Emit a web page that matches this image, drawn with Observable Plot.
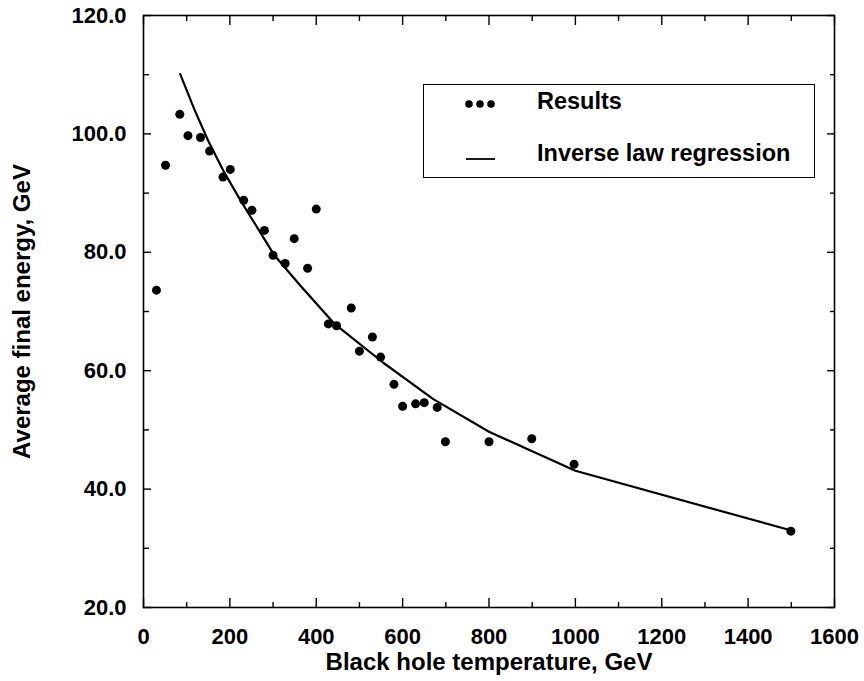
<!DOCTYPE html>
<html>
<head>
<meta charset="utf-8">
<script src="https://cdn.jsdelivr.net/npm/d3@7"></script>
<script src="https://cdn.jsdelivr.net/npm/@observablehq/plot@0.6"></script>
<style>
  html, body { margin: 0; padding: 0; background: #fff; }
  #wrap { position: relative; width: 864px; height: 681px; font-family: "Liberation Sans", Arial, Helvetica, sans-serif; }
  #legend { position: absolute; left: 423px; top: 84px; width: 390px; height: 92px; border: 1.6px solid #000; background: #fff; }
  #legend .txt { position: absolute; left: 113px; font-size: 23.5px; font-weight: bold; color: #000; white-space: nowrap; }
</style>
</head>
<body>
<div id="wrap"></div>
<script>
// Results (black hole temperature GeV, average final energy GeV)
const tempGeV = [30, 51, 84, 103, 132, 153, 184, 201, 232, 251, 280, 300, 328, 349, 380, 400, 428, 447, 481, 500, 530, 549, 580, 600, 630, 650, 680, 699, 800, 899, 997, 1499];
const energyGeV = [73.6, 94.7, 103.3, 99.7, 99.4, 97.1, 92.7, 94.0, 88.8, 87.1, 83.7, 79.5, 78.1, 82.3, 77.3, 87.3, 67.9, 67.6, 70.6, 63.3, 65.7, 62.3, 57.7, 54.0, 54.4, 54.6, 53.8, 48.0, 48.0, 48.5, 44.2, 32.9];

// Inverse law regression curve
const regTemp = [85, 118, 150, 187, 226, 265, 302, 364, 441, 556, 671, 800, 900, 1000, 1500];
const regEnergy = [110.1, 104.1, 98.8, 93.5, 88.6, 84.0, 79.6, 74.3, 68.0, 61.3, 55.2, 49.7, 46.4, 43.1, 33.0];

// Axis ticks
const xMajor = [0, 200, 400, 600, 800, 1000, 1200, 1400, 1600];
const xMinor = [100, 300, 500, 700, 900, 1100, 1300, 1500];
const yMajor = [20, 40, 60, 80, 100, 120];
const yMinor = [30, 50, 70, 90, 110];

const xTitle = "Black hole temperature, GeV";
const yTitle = "Average final energy, GeV";

const results = tempGeV.map((t, i) => ({t, e: energyGeV[i]}));
const regression = regTemp.map((t, i) => ({t, e: regEnergy[i]}));

const font = '"Liberation Sans", Arial, Helvetica, sans-serif';
const blank = () => "";

const chart = Plot.plot({
  width: 864,
  height: 681,
  marginLeft: 143,
  marginRight: 30,
  marginTop: 15,
  marginBottom: 74,
  style: { fontFamily: font, fontSize: "22px", color: "#000", background: "#fff", overflow: "visible" },
  x: { domain: [0, 1600] },
  y: { domain: [20, 120] },
  marks: [
    Plot.frame({ stroke: "#000", strokeWidth: 1.6 }),
    // tick labels
    Plot.axisX(xMajor, { anchor: "bottom", tickSize: 0, tickPadding: 21, tickFormat: d3.format("d"),
      label: null, fontSize: 22, fontWeight: "bold" }),
    Plot.axisY(yMajor, { anchor: "left", tickSize: 0, tickPadding: 17, tickFormat: d3.format(".1f"),
      label: null, fontSize: 22, fontWeight: "bold" }),
    // axis titles
    Plot.text([xTitle], { text: d => d, frameAnchor: "bottom", lineAnchor: "middle", textAnchor: "middle", dy: 55, fontSize: 24, fontWeight: "bold", fill: "#000" }),
    Plot.text([yTitle], { text: d => d, frameAnchor: "left", rotate: -90, lineAnchor: "middle", textAnchor: "middle", dx: -121, fontSize: 24, fontWeight: "bold", fill: "#000" }),
    // inward ticks, bottom & top
    Plot.axisX(xMajor, { anchor: "bottom", tickSize: 9, dy: -9, tickFormat: blank, label: null, strokeWidth: 1.4 }),
    Plot.axisX(xMinor, { anchor: "bottom", tickSize: 5, dy: -5, tickFormat: blank, label: null, strokeWidth: 1.4 }),
    Plot.axisX(xMajor, { anchor: "top", tickSize: 9, dy: 9, tickFormat: blank, label: null, strokeWidth: 1.4 }),
    Plot.axisX(xMinor, { anchor: "top", tickSize: 5, dy: 5, tickFormat: blank, label: null, strokeWidth: 1.4 }),
    // inward ticks, left & right
    Plot.axisY(yMajor, { anchor: "left", tickSize: 8, dx: 8, tickFormat: blank, label: null, strokeWidth: 1.4 }),
    Plot.axisY(yMinor, { anchor: "left", tickSize: 6, dx: 6, tickFormat: blank, label: null, strokeWidth: 1.4 }),
    Plot.axisY(yMajor, { anchor: "right", tickSize: 8, dx: -8, tickFormat: blank, label: null, strokeWidth: 1.4 }),
    Plot.axisY(yMinor, { anchor: "right", tickSize: 5, dx: -5, tickFormat: blank, label: null, strokeWidth: 1.4 }),
    // data
    Plot.line(regression, { x: "t", y: "e", stroke: "#000", strokeWidth: 2.2 }),
    Plot.dot(results, { x: "t", y: "e", r: 4.5, fill: "#000", stroke: "none" })
  ]
});

const wrap = document.getElementById("wrap");
wrap.appendChild(chart);

// legend
const legend = document.createElement("div");
legend.id = "legend";
legend.innerHTML = `
  <svg width="390" height="92" style="position:absolute;left:0;top:0">
    <circle cx="45" cy="19" r="3.8" fill="#000"/>
    <circle cx="56" cy="19" r="3.8" fill="#000"/>
    <circle cx="67" cy="19" r="3.8" fill="#000"/>
    <line x1="42" x2="71" y1="74" y2="74" stroke="#000" stroke-width="1.8"/>
  </svg>
  <div class="txt" style="top:3px">Results</div>
  <div class="txt" style="top:55px">Inverse law regression</div>`;
wrap.appendChild(legend);
</script>
</body>
</html>
